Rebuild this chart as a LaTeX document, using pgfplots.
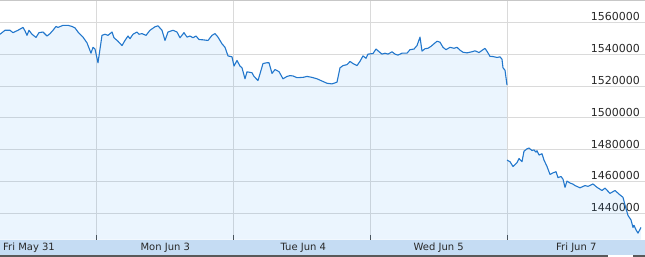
\documentclass[border=0pt]{standalone}
\usepackage{pgfplots}
\pgfplotsset{compat=1.18}
\usepackage{pgfplotstable}
\usepackage{fontspec}
\setmainfont{DejaVu Sans}
\definecolor{linec}{RGB}{34,119,204}
\definecolor{fillc}{RGB}{55,155,245}
\definecolor{gridc}{RGB}{218,218,218}
\definecolor{bandc}{RGB}{197,220,243}
\definecolor{txtc}{RGB}{40,40,40}

\pgfplotstableread{
x y
0 1552500
5 1555000
10 1555000
13 1553500
18 1555000
23 1556800
25 1554600
27 1551800
29 1555000
32 1552500
36 1550500
39 1553500
43 1553900
47 1551400
50 1552900
53 1555000
56 1557400
58 1556800
63 1558100
68 1558100
72 1557400
75 1556500
78 1553900
83 1550700
87 1547100
91 1540600
93 1544300
95 1543200
98 1534600
102 1551800
105 1552500
108 1551800
112 1553900
114 1550300
118 1548100
122 1545400
125 1548600
128 1551400
130 1549700
133 1552500
137 1553900
139 1552500
142 1552900
146 1551800
150 1555000
155 1557200
158 1557800
162 1555000
165 1548600
168 1553900
173 1555000
177 1553900
180 1550300
184 1553500
187 1550700
190 1551400
193 1550300
196 1551400
199 1549200
203 1549000
208 1548600
212 1551800
215 1552900
218 1550700
222 1546500
225 1544300
228 1538900
232 1538300
234 1532500
237 1536000
240 1532500
242 1531400
245 1524500
247 1528900
252 1528300
254 1526000
258 1523400
263 1534100
267 1534600
269 1534600
272 1527900
275 1530300
279 1529000
283 1524500
287 1526000
290 1526500
293 1526300
297 1525200
303 1525400
307 1526000
312 1525400
317 1524500
322 1523100
327 1521700
332 1521300
337 1522400
340 1531400
343 1532800
347 1533400
350 1535400
353 1534100
357 1532800
360 1535500
363 1538900
366 1537400
368 1540000
373 1540400
376 1543200
378 1542100
382 1540000
385 1540600
388 1540000
392 1541500
395 1540000
398 1539400
402 1540600
407 1540600
410 1542800
414 1543200
417 1545400
420 1550700
422 1541900
425 1543400
428 1543700
431 1544900
433 1546000
437 1548100
440 1547500
443 1544300
446 1542800
450 1544300
454 1543700
457 1544300
460 1542500
463 1541200
467 1540800
472 1541500
475 1542100
479 1541000
483 1542800
485 1543600
487 1541800
490 1538600
493 1538500
497 1537900
500 1538300
502 1536800
503 1531400
505 1529900
507 1520600
}\dataA

\pgfplotstableread{
x y
507 1473400
510 1472400
513 1469400
517 1471800
519 1474400
522 1472400
524 1479000
527 1480500
529 1481000
532 1479400
534 1479800
536 1478400
537 1479300
539 1476600
542 1477400
544 1473400
547 1469400
550 1464400
553 1465400
556 1466100
558 1462400
561 1463100
563 1461400
565 1456300
567 1460200
570 1459000
573 1458300
575 1457400
580 1456000
585 1457400
588 1456900
593 1458400
597 1456300
602 1454300
605 1455800
610 1452500
615 1454300
620 1451500
623 1450000
625 1445100
628 1438600
631 1435800
633 1431100
634 1432400
636 1429600
638 1427500
641 1431100
}\dataB

\begin{document}
\begin{tikzpicture}
\begin{axis}[
  at={(0,0)}, anchor=south west,
  scale only axis, width=645bp, height=238.5bp,
  xmin=0, xmax=645, ymin=1423500, ymax=1573400,
  scaled x ticks=false, scaled y ticks=false,
  axis line style={draw=none},
  xtick={96,233,370,507}, xticklabels={},
  xtick pos=bottom, tick align=inside,
  major tick length=4bp,
  x tick style={draw=black!70, line width=0.8bp},
  ytick={1440000,1460000,1480000,1500000,1520000,1540000,1560000},
  yticklabels={1440000,1460000,1480000,1500000,1520000,1540000,1560000},
  y tick style={draw=none},
  yticklabel pos=right,
  yticklabel style={anchor=base east, inner sep=0pt, xshift=-5bp, yshift=1.5bp,
    font=\fontsize{11bp}{13bp}\selectfont, text=txtc},
  grid=major,
  major grid style={draw=gridc, line width=0.8bp},
]
\addplot[draw=none, fill=fillc, fill opacity=0.1] table[x=x,y=y] {\dataA}
  -- (axis cs:507,1423500) -- (axis cs:0,1423500) -- cycle;
\addplot[draw=none, fill=fillc, fill opacity=0.1] table[x=x,y=y] {\dataB}
  -- (axis cs:641,1423500) -- (axis cs:507,1423500) -- cycle;
\addplot[linec, line width=1.1bp, line join=round] table[x=x,y=y] {\dataA};
\addplot[linec, line width=1.1bp, line join=round] table[x=x,y=y] {\dataB};
\end{axis}
\draw[black!22, line width=1.2bp] (0,238.6bp) -- (645bp,238.6bp);
\fill[bandc] (0,-15.5bp) rectangle (645bp,0);
\fill[black!65] (0,-17.5bp) rectangle (645bp,-15.5bp);
\fill[white] (608bp,-17.5bp) rectangle (633bp,-15.8bp);
\begin{scope}[every node/.style={inner sep=0pt, font=\fontsize{10bp}{12bp}\selectfont, text=txtc}]
\node[anchor=base west] at (3bp,-11.2bp) {Fri May 31};
\node[anchor=base] at (165.3bp,-11.2bp) {Mon Jun 3};
\node[anchor=base] at (303.3bp,-11.2bp) {Tue Jun 4};
\node[anchor=base] at (438.7bp,-11.2bp) {Wed Jun 5};
\node[anchor=base] at (576.3bp,-11.2bp) {Fri Jun 7};
\end{scope}
\pgfresetboundingbox
\useasboundingbox (0,-17.5bp) rectangle (645bp,239.5bp);
\end{tikzpicture}
\end{document}
